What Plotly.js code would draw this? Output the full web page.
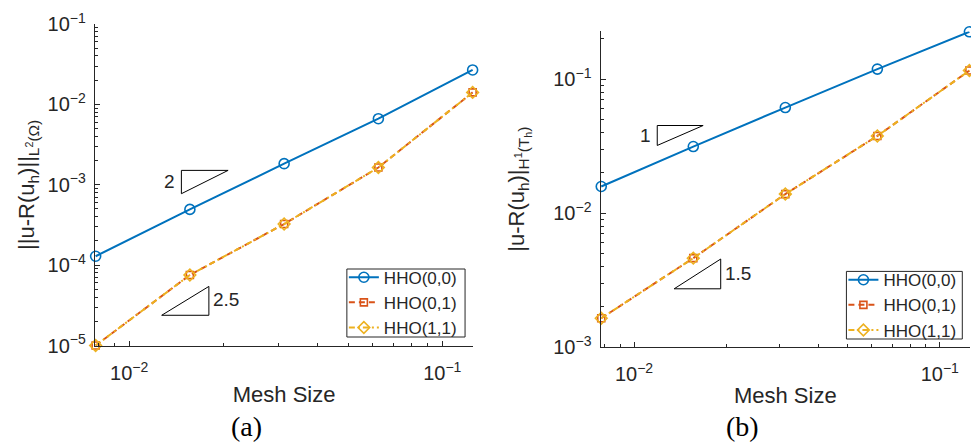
<!DOCTYPE html>
<html><head><meta charset="utf-8">
<script src="https://cdn.plot.ly/plotly-3.0.1.min.js"></script>
<style>html,body{margin:0;padding:0;background:#fff;}#chart{width:971px;height:442px;}</style>
</head><body><div id="chart"></div>
<script>
// ---- data ----
const meshSize = [0.0078125, 0.015625, 0.03125, 0.0625, 0.125];
const seriesNames = ['HHO(0,0)', 'HHO(0,1)', 'HHO(1,1)'];
// (a) L2 error
const l2Hho00 = [1.29e-4, 4.94e-4, 1.83e-3, 6.64e-3, 2.68e-2];
const l2Hho01 = [1.0e-5, 7.55e-5, 3.25e-4, 1.64e-3, 1.41e-2];
const l2Hho11 = [1.0e-5, 7.55e-5, 3.25e-4, 1.64e-3, 1.41e-2];
// (b) H1 seminorm error
const h1Hho00 = [0.0158, 0.0314, 0.0614, 0.119, 0.226];
const h1Hho01 = [1.64e-3, 4.61e-3, 1.387e-2, 3.77e-2, 0.116];
const h1Hho11 = [1.64e-3, 4.61e-3, 1.387e-2, 3.77e-2, 0.116];
// slope triangles (data coordinates) and labels
const triA2x = [0.01468, 0.0207, 0.01468, 0.01468];
const triA2y = [1.51e-3, 1.51e-3, 7.74e-4, 1.51e-3];
const triA25x = [0.0127, 0.01797, 0.01797, 0.0127];
const triA25y = [2.38e-5, 5.44e-5, 2.38e-5, 2.38e-5];
const triB1x = [0.01191, 0.01683, 0.01191, 0.01191];
const triB1y = [0.0451, 0.0451, 0.0320, 0.0451];
const triB15x = [0.01353, 0.01921, 0.01921, 0.01353];
const triB15y = [2.72e-3, 4.54e-3, 2.72e-3, 2.72e-3];
const slopeLabels = ['2', '2.5', '1', '1.5'];
const slopeLabelX = [0.01344, 0.02033, 0.01094, 0.02183];
const slopeLabelY = [1.10e-3, 3.72e-5, 0.0379, 3.56e-3];
const slopeLabelAxis = ['', '', '2', '2'];

// ---- styling ----
const W = 971, H = 442;
const M = {l: 94.6, r: 0.6, t: 24.3, b: 94.7};
const PW = W - M.l - M.r, PH = H - M.t - M.b;
const px = v => (v - M.l) / PW;
const py = v => (H - M.b - v) / PH;
const TXT = '#262626';
const FONT = 'Liberation Sans, Arial, Helvetica, sans-serif';
const colors = ['#0072BD', '#D95319', '#EDB120'];
const symbols = ['circle-open', 'square-open', 'diamond-open'];
const sizes = [10, 7, 9];
const dashes = ['solid', '6px,4px', '6px,3px,2px,3px'];
const EPS = 0.002;

function series(ys, i, xa, ya, leg) {
  return {
    x: meshSize, y: ys, name: seriesNames[i], type: 'scatter', mode: 'lines+markers',
    xaxis: xa, yaxis: ya, legend: leg, cliponaxis: false,
    line: {color: colors[i], width: 2, dash: dashes[i]},
    marker: {symbol: symbols[i], size: sizes[i], color: colors[i], line: {color: colors[i], width: 1.6}}
  };
}
function tri(xs, ys, xa, ya) {
  return {x: xs, y: ys, type: 'scatter', mode: 'lines', xaxis: xa, yaxis: ya, showlegend: false,
    hoverinfo: 'skip', line: {color: '#000', width: 1}};
}

const traces = [
  series(l2Hho00, 0, 'x', 'y', 'legend'),
  series(l2Hho01, 1, 'x', 'y', 'legend'),
  series(l2Hho11, 2, 'x', 'y', 'legend'),
  series(h1Hho00, 0, 'x2', 'y2', 'legend2'),
  series(h1Hho01, 1, 'x2', 'y2', 'legend2'),
  series(h1Hho11, 2, 'x2', 'y2', 'legend2'),
  tri(triA2x, triA2y, 'x', 'y'),
  tri(triA25x, triA25y, 'x', 'y'),
  tri(triB1x, triB1y, 'x2', 'y2'),
  tri(triB15x, triB15y, 'x2', 'y2')
];

const axBase = {
  type: 'log', showline: true, linecolor: TXT, linewidth: 1, mirror: false,
  ticks: 'inside', ticklen: 5, tickwidth: 1, tickcolor: TXT, showgrid: false, zeroline: false,
  dtick: 1, exponentformat: 'power', tickfont: {family: FONT, size: 16, color: TXT},
  minor: {ticks: 'inside', ticklen: 3, tickwidth: 1, tickcolor: TXT, dtick: 'D1', showgrid: false},
  fixedrange: true, automargin: false
};
const xr = [Math.log10(meshSize[0]) - EPS, Math.log10(meshSize[meshSize.length - 1]) + EPS];
const titleFont = {family: FONT, size: 22, color: TXT};

const legBase = {
  bgcolor: 'rgba(0,0,0,0)', borderwidth: 0, xanchor: 'left', yanchor: 'top',
  font: {family: FONT, size: 17, color: TXT}, tracegroupgap: 0
};

const annotations = slopeLabels.map((t, i) => ({
  text: t, x: Math.log10(slopeLabelX[i]), y: Math.log10(slopeLabelY[i]),
  xref: 'x' + slopeLabelAxis[i], yref: 'y' + slopeLabelAxis[i], showarrow: false,
  xanchor: 'center', yanchor: 'middle', font: {family: FONT, size: 19, color: TXT}
}));
const capFont = {family: 'Liberation Serif, Times New Roman, serif', size: 28, color: '#000'};
annotations.push({text: '(a)', x: px(246), y: py(427), xref: 'paper', yref: 'paper', showarrow: false,
  xanchor: 'center', yanchor: 'middle', font: capFont});
annotations.push({text: '(b)', x: px(743), y: py(427), xref: 'paper', yref: 'paper', showarrow: false,
  xanchor: 'center', yanchor: 'middle', font: capFont});

const legendBox = (x0, y0, x1, y1) => ({type: 'rect', xref: 'paper', yref: 'paper',
  x0: px(x0), x1: px(x1), y0: py(y1), y1: py(y0), layer: 'below',
  fillcolor: '#fff', line: {color: TXT, width: 1}});

const layout = {
  width: W, height: H, margin: M, paper_bgcolor: '#fff', plot_bgcolor: 'rgba(0,0,0,0)',
  font: {family: FONT, color: TXT}, showlegend: true,
  xaxis: Object.assign({}, axBase, {domain: [0, px(473.2)], range: xr, anchor: 'y', ticklabelstandoff: 10,
    title: {text: 'Mesh Size', font: titleFont, standoff: 3}}),
  yaxis: Object.assign({}, axBase, {domain: [py(346), 1], range: [-5 - EPS, -1], anchor: 'x', ticklabelstandoff: 5,
    title: {text: '||u-R(u<sub>h</sub>)||<sub>L<sup>2</sup>(Ω)</sub>', font: titleFont, standoff: 6}}),
  xaxis2: Object.assign({}, axBase, {domain: [px(600.7), 1], range: xr, anchor: 'y2', ticklabelstandoff: 10,
    title: {text: 'Mesh Size', font: titleFont, standoff: 3}}),
  yaxis2: Object.assign({}, axBase, {domain: [0, py(31.7)], range: [-3, -0.645 + EPS], anchor: 'x2', ticklabelstandoff: 5,
    title: {text: '|u-R(u<sub>h</sub>)|<sub>H<sup>1</sup>(T<sub>h</sub>)</sub>', font: titleFont, standoff: 22}}),
  legend: Object.assign({}, legBase, {x: px(343.7), y: py(260)}),
  legend2: Object.assign({}, legBase, {x: px(843.7), y: py(262.5)}),
  shapes: [legendBox(346.7, 269.3, 465, 337.3), legendBox(846.7, 271.7, 962.7, 339.3)],
  annotations: annotations
};

Plotly.newPlot('chart', traces, layout, {displayModeBar: false, staticPlot: true});
</script>
</body></html>
